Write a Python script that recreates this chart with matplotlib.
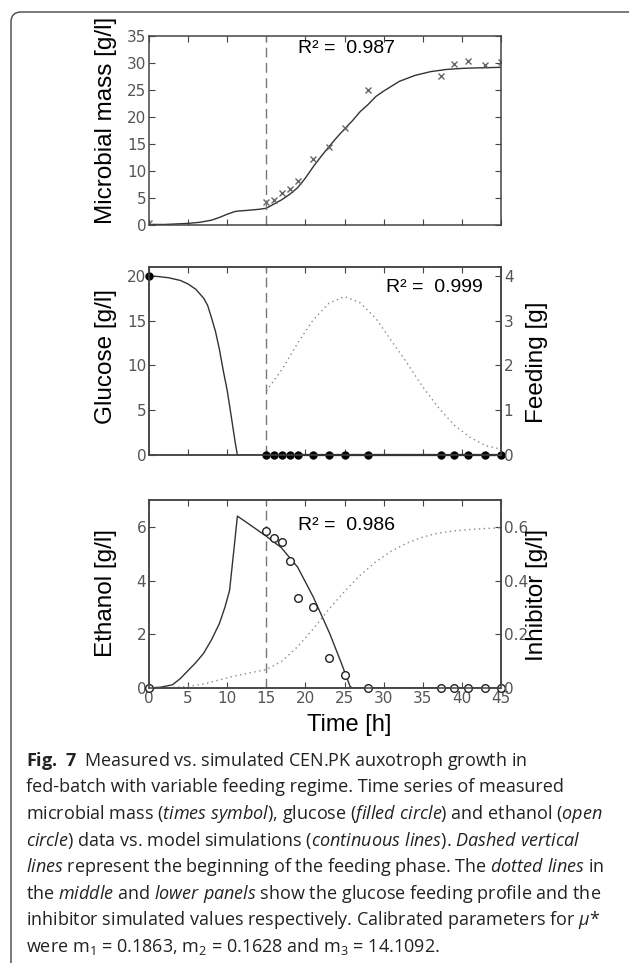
import matplotlib
matplotlib.use("Agg")
import matplotlib.pyplot as plt
from matplotlib.patches import FancyBboxPatch
from matplotlib.transforms import IdentityTransform

# measured sample times (h)
time_meas = [0, 15, 16, 17, 18, 19, 21, 23, 25, 28, 37.3, 39, 40.8, 43, 45]
biomass_meas = [0.3, 4.3, 4.7, 5.9, 6.6, 8.2, 12.2, 14.4, 18.0, 25.0, 27.6, 29.9, 30.3, 29.7, 30.1]
glucose_meas = [20, 0, 0, 0, 0, 0, 0, 0, 0, 0, 0, 0, 0, 0, 0]
ethanol_meas = [0, 5.85, 5.57, 5.44, 4.74, 3.35, 3.02, 1.13, 0.49, 0, 0, 0, 0, 0, 0]

# simulated microbial mass
sim_x_t = [0, 2, 5, 6.5, 8, 9, 10, 11, 11.5, 12.5, 14, 15, 16, 17, 18, 19, 20, 21, 22, 23,
           24, 25, 26, 27, 28, 29, 30, 32, 34, 36, 38, 40, 42, 45]
sim_x = [0.1, 0.1, 0.3, 0.5, 0.9, 1.4, 2.0, 2.5, 2.6, 2.7, 2.9, 3.1, 3.9, 4.7, 5.7, 6.9, 8.7,
         10.8, 12.7, 14.5, 16.2, 17.8, 19.3, 21.0, 22.3, 23.8, 24.8, 26.6, 27.7, 28.4, 28.8,
         29.0, 29.1, 29.2]

# simulated glucose
sim_g_t = [0, 1, 2.5, 4, 5, 6, 7, 7.5, 8, 8.5, 9, 9.5, 10, 10.5, 11, 11.3, 45]
sim_g = [20, 19.95, 19.8, 19.5, 19.1, 18.5, 17.5, 16.7, 15.3, 13.8, 11.8, 9.4, 7.2, 4.4, 1.5, 0, 0]

# glucose feeding profile
feed_t = [15, 17, 19, 21, 23, 25, 27, 29, 31, 33, 35, 37, 39, 41, 43, 45]
feed = [1.43, 1.91, 2.5, 3.02, 3.39, 3.54, 3.4, 3.05, 2.55, 2.05, 1.52, 1.06, 0.67, 0.4, 0.21, 0.13]

# simulated ethanol
sim_e_t = [0, 1.5, 3, 4, 5, 6, 7, 8, 9, 9.7, 10.3, 10.8, 11.3, 12.8, 14.9, 16.9, 19, 21,
           23.1, 24.6, 25.7, 26, 45]
sim_e = [0, 0.03, 0.12, 0.35, 0.65, 0.95, 1.3, 1.8, 2.4, 3.0, 3.63, 5.0, 6.4, 6.1, 5.67,
         5.23, 4.5, 3.39, 2.03, 0.92, 0.06, 0, 0]

# simulated inhibitor
inh_t = [0, 3, 5, 7, 9, 11, 13, 15, 17, 19, 21, 23, 25, 27, 29, 31, 33, 35, 37, 39, 41, 43, 45]
inh = [0, 0.002, 0.006, 0.015, 0.03, 0.045, 0.057, 0.069, 0.1, 0.154, 0.22, 0.293, 0.36,
       0.42, 0.47, 0.51, 0.54, 0.562, 0.577, 0.585, 0.59, 0.594, 0.596]

feed_start = 15
r2_values = ["0.987", "0.999", "0.986"]

W, H = 629, 963
fig = plt.figure(figsize=(W / 100, H / 100), dpi=100)

tick_font = "Liberation Sans Narrow"
label_font = ["Liberation Sans", "DejaVu Sans"]
plt.rcParams["mathtext.fontset"] = "custom"
plt.rcParams["mathtext.rm"] = "Open Sans"
plt.rcParams["mathtext.it"] = "Open Sans:italic"
plt.rcParams["mathtext.bf"] = "Open Sans:bold"

# rounded frame around the figure + caption
frame = FancyBboxPatch((11, -30), 700, H - 12 + 30, boxstyle="round,pad=0,rounding_size=10",
                       transform=IdentityTransform(), fill=False, edgecolor="#555555", lw=1.1)
fig.patches.append(frame)


def px_axes(top, bottom):
    return fig.add_axes([149 / W, 1 - bottom / H, 352 / W, (bottom - top) / H])


def style(ax):
    for s in ax.spines.values():
        s.set_color("#444444")
        s.set_linewidth(1.1)
    ax.tick_params(direction="in", length=4, width=0.8, color="#444444",
                   labelcolor="#555555", labelsize=11, pad=2, labelfontfamily=tick_font)


sim_kw = dict(color="#333333", lw=1.0)
dot_kw = dict(color="#888888", lw=1.0, linestyle=(0, (1, 2.5)))
dash_kw = dict(color="#777777", lw=1.0, linestyle=(0, (7, 4)))
r2_kw = dict(fontsize=14, family=label_font, va="center")

# top panel: microbial mass
ax1 = px_axes(36, 225)
ax1.plot(sim_x_t, sim_x, **sim_kw)
ax1.plot(time_meas, biomass_meas, "x", color="#666666", ms=5, mew=1)
ax1.axvline(feed_start, **dash_kw)
ax1.set_xlim(0, 45)
ax1.set_ylim(0, 35)
ax1.set_xticks(range(0, 46, 5))
ax1.set_yticks(range(0, 36, 5))
ax1.tick_params(top=True, right=True, labelbottom=False)
style(ax1)
ax1.text(19, 32.6, "R² =  " + r2_values[0], **r2_kw)

# middle panel: glucose + feeding
ax2 = px_axes(267, 455)
ax2.plot(sim_g_t, sim_g, **sim_kw)
ax2.plot(time_meas, glucose_meas, "o", color="black", ms=5, clip_on=False, zorder=5)
ax2.plot([feed_start, 45], [0, 0], color="black", lw=1.6, clip_on=False, zorder=4)
ax2.axvline(feed_start, **dash_kw)
ax2.set_xlim(0, 45)
ax2.set_ylim(0, 21)
ax2.set_xticks(range(0, 46, 5))
ax2.set_yticks(range(0, 21, 5))
ax2.tick_params(top=True, labelbottom=False)
ax2b = ax2.twinx()
ax2b.plot(feed_t, feed, **dot_kw)
ax2b.set_ylim(0, 4.2)
ax2b.set_yticks(range(0, 5))
style(ax2)
style(ax2b)
ax2.text(30.3, 18.7, "R² =  " + r2_values[1], **r2_kw)

# bottom panel: ethanol + inhibitor
ax3 = px_axes(500, 688)
ax3.plot(sim_e_t, sim_e, **sim_kw)
ax3.plot(time_meas, ethanol_meas, "o", mfc="white", mec="#222222", ms=5.5, mew=1,
         clip_on=False, zorder=5)
ax3.axvline(feed_start, **dash_kw)
ax3.set_xlim(0, 45)
ax3.set_ylim(0, 7)
ax3.set_xticks(range(0, 46, 5))
ax3.set_yticks(range(0, 7, 2))
ax3.tick_params(top=True)
ax3b = ax3.twinx()
ax3b.plot(inh_t, inh, **dot_kw)
ax3b.set_ylim(0, 0.7)
ax3b.set_yticks([0, 0.2, 0.4, 0.6])
ax3b.set_yticklabels(["0", "0.2", "0.4", "0.6"])
style(ax3)
style(ax3b)
ax3.text(19, 6.05, "R² =  " + r2_values[2], **r2_kw)

# axis labels
lab_kw = dict(fontsize=17.5, family=label_font, ha="center", va="center", rotation=90)
fig.text(106 / W, 1 - 120 / H, "Microbial mass [g/l]", **lab_kw)
fig.text(106 / W, 1 - 357 / H, "Glucose [g/l]", **lab_kw)
fig.text(537 / W, 1 - 362 / H, "Feeding [g]", **lab_kw)
fig.text(106 / W, 1 - 593 / H, "Ethanol [g/l]", **lab_kw)
fig.text(537 / W, 1 - 595 / H, "Inhibitor [g/l]", **lab_kw)
fig.text(349 / W, 1 - 725 / H, "Time [h]", fontsize=17, family=label_font,
         ha="center", va="center")

# caption
caption = [
    r"$\mathbf{Fig.\ 7}$  Measured vs. simulated CEN.PK auxotroph growth in",
    "fed-batch with variable feeding regime. Time series of measured",
    r"microbial mass ($\mathit{times\ symbol}$), glucose ($\mathit{filled\ circle}$) and ethanol ($\mathit{open}$",
    r"$\mathit{circle}$) data vs. model simulations ($\mathit{continuous\ lines}$). $\mathit{Dashed\ vertical}$",
    r"$\mathit{lines}$ represent the beginning of the feeding phase. The $\mathit{dotted\ lines}$ in",
    r"the $\mathit{middle}$ and $\mathit{lower\ panels}$ show the glucose feeding profile and the",
    r"inhibitor simulated values respectively. Calibrated parameters for $\mathit{\mu}$*",
    r"were m$_1$ = 0.1863, m$_2$ = 0.1628 and m$_3$ = 14.1092.",
]
for i, line in enumerate(caption):
    fig.text(26 / W, 1 - (766 + 26.5 * i) / H, line, fontsize=13, family="Open Sans",
             color="#222222", ha="left", va="baseline")

fig.savefig("out.png", dpi=100)
